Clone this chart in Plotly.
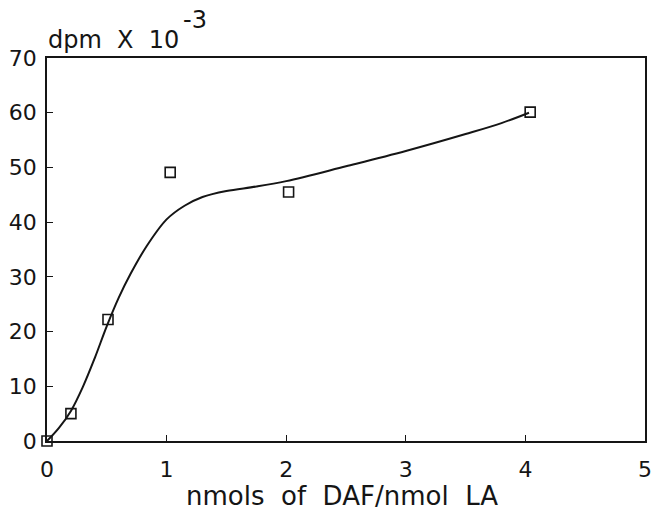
import plotly.graph_objects as go

# measured data points
pt_x = [0.0, 0.2, 0.51, 1.03, 2.02, 4.04]
pt_y = [0.0, 5.0, 22.2, 49.1, 45.5, 60.1]

# fitted curve
curve_x = [0.0, 0.1, 0.2, 0.3, 0.4, 0.5, 0.6, 0.7, 0.83, 1.0, 1.15, 1.3, 1.5, 1.75, 2.0, 2.5, 3.0, 3.5, 3.8, 4.03]
curve_y = [0.0, 2.4, 5.5, 9.9, 15.2, 21.0, 26.2, 30.6, 35.5, 40.5, 43.0, 44.6, 45.7, 46.5, 47.5, 50.2, 53.0, 56.1, 58.1, 60.0]

x_ticks = [0, 1, 2, 3, 4, 5]
y_ticks = [0, 10, 20, 30, 40, 50, 60, 70]

FONT = "DejaVu Sans, Liberation Sans, Arial, sans-serif"
INK = "#151515"
NB = "\u00a0"

W, H = 652, 511
L, R, T, B = 47, 7, 58, 70
PW, PH = W - L - R, H - T - B


def px_x(p):
    return (p - L) / PW


def px_y(p):
    return (H - B - p) / PH


fig = go.Figure()
fig.add_trace(go.Scatter(x=curve_x, y=curve_y, mode="lines",
                         line=dict(color=INK, width=2, shape="spline", smoothing=1.0),
                         hoverinfo="skip", showlegend=False))
fig.add_trace(go.Scatter(x=pt_x, y=pt_y, mode="markers",
                         marker=dict(symbol="square-open", size=10, color=INK,
                                     line=dict(width=1.6, color=INK)),
                         cliponaxis=False, showlegend=False))

axis_common = dict(ticks="inside", ticklen=6, tickwidth=1.3, tickcolor=INK,
                   showline=True, linecolor=INK, linewidth=1.6, mirror=True,
                   showgrid=False, zeroline=False, automargin=False,
                   tickfont=dict(size=22, family=FONT, color=INK))

fig.update_layout(
    width=W, height=H,
    margin=dict(l=L, r=R, t=T, b=B),
    paper_bgcolor="white", plot_bgcolor="white",
    font=dict(family=FONT, size=22, color=INK),
    xaxis=dict(range=[0, 5], tickvals=x_ticks, ticklabelstandoff=8, **axis_common),
    yaxis=dict(range=[0, 70], tickvals=y_ticks, ticklabelstandoff=4, **axis_common),
    annotations=[
        dict(text=f"dpm{NB}{NB}X{NB}{NB}10", xref="paper", yref="paper",
             x=px_x(46), y=px_y(56), xanchor="left", yanchor="bottom", showarrow=False,
             font=dict(size=24, color=INK, family=FONT)),
        dict(text="-3", xref="paper", yref="paper",
             x=px_x(181), y=px_y(20), xanchor="left", yanchor="middle", showarrow=False,
             font=dict(size=24, color=INK, family=FONT)),
        dict(text=f"nmols{NB}{NB}of{NB}{NB}DAF/nmol{NB}{NB}LA", xref="paper", yref="paper",
             x=px_x(342), y=px_y(496), xanchor="center", yanchor="middle", showarrow=False,
             font=dict(size=26, color=INK, family=FONT)),
    ],
)

fig.write_html("out.html", config={"displayModeBar": False},
               post_script="document.body.style.margin='0';")
